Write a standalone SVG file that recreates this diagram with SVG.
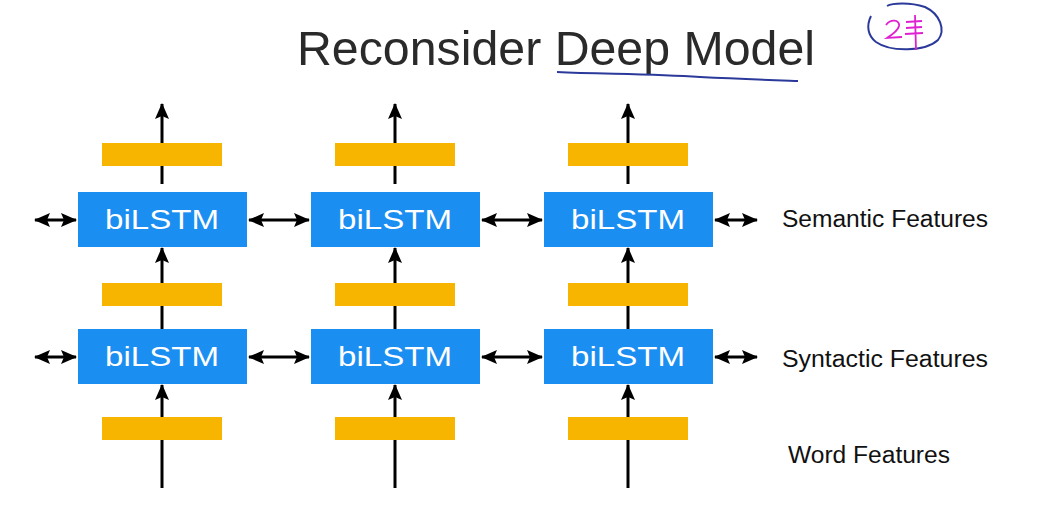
<svg xmlns="http://www.w3.org/2000/svg" width="1037" height="515" viewBox="0 0 1037 515">
<defs>
<marker id="ah" markerUnits="userSpaceOnUse" markerWidth="16" markerHeight="16" refX="15" refY="8" orient="auto-start-reverse" viewBox="0 0 16 16">
<path d="M0,1 L16,8 L0,15 L3,8 Z" fill="#000"/>
</marker>
<style>
.conn{stroke:#000;stroke-width:3;fill:none}
.arr{marker-end:url(#ah)}
.bi{marker-start:url(#ah);marker-end:url(#ah)}
.lstm{fill:#1b8ef2}
.emb{fill:#f7b500}
.lt{font-family:"Liberation Sans",Arial,sans-serif;font-size:28px;fill:#fff;text-anchor:middle}
.lab{font-family:"Liberation Sans",Arial,sans-serif;font-size:23px;fill:#111}
</style>
</defs>
<rect width="1037" height="515" fill="#fff"/>
<text x="297" y="65" font-family="'Liberation Sans',Arial,sans-serif" font-size="48" fill="#2a2a2a" textLength="518" lengthAdjust="spacingAndGlyphs">Reconsider Deep Model</text>
<g id="annotation" fill="none">
<path d="M557,72 C600,74 650,74 700,77 C740,79 770,80 798,81" stroke="#2b3a9a" stroke-width="2"/>
<path d="M871,16 C866,26 868,36 876,42 C890,52 925,52 938,40 C946,30 940,14 925,7 C910,2 892,3 887,6" stroke="#2b3a9a" stroke-width="2"/>
<path d="M886,25 C890,19 900,19 899,26 C898,31 890,36 887,38 L902,37" stroke="#e020d0" stroke-width="1.8"/>
<path d="M906,22 L922,21 M906,28 L922,27 M905,34 L923,33 M915,15 L916,50" stroke="#e020d0" stroke-width="1.8"/>
</g>
<g id="connectors">
<line class="conn arr" x1="162" y1="184" x2="162" y2="104"/>
<line class="conn arr" x1="162" y1="329" x2="162" y2="248"/>
<line class="conn arr" x1="162" y1="488" x2="162" y2="385"/>
<line class="conn arr" x1="395" y1="184" x2="395" y2="104"/>
<line class="conn arr" x1="395" y1="329" x2="395" y2="248"/>
<line class="conn arr" x1="395" y1="488" x2="395" y2="385"/>
<line class="conn arr" x1="628" y1="184" x2="628" y2="104"/>
<line class="conn arr" x1="628" y1="329" x2="628" y2="248"/>
<line class="conn arr" x1="628" y1="488" x2="628" y2="385"/>
<line class="conn bi" x1="35" y1="220" x2="76" y2="220"/>
<line class="conn bi" x1="249" y1="220" x2="309" y2="220"/>
<line class="conn bi" x1="482" y1="220" x2="542" y2="220"/>
<line class="conn bi" x1="715" y1="220" x2="757" y2="220"/>
<line class="conn bi" x1="35" y1="357" x2="76" y2="357"/>
<line class="conn bi" x1="249" y1="357" x2="309" y2="357"/>
<line class="conn bi" x1="482" y1="357" x2="542" y2="357"/>
<line class="conn bi" x1="715" y1="357" x2="757" y2="357"/>
</g>
<g id="emb-top-1"><rect class="emb" x="102" y="143" width="120" height="23"/></g>
<g id="emb-top-2"><rect class="emb" x="335" y="143" width="120" height="23"/></g>
<g id="emb-top-3"><rect class="emb" x="568" y="143" width="120" height="23"/></g>
<g id="emb-mid-1"><rect class="emb" x="102" y="283" width="120" height="23"/></g>
<g id="emb-mid-2"><rect class="emb" x="335" y="283" width="120" height="23"/></g>
<g id="emb-mid-3"><rect class="emb" x="568" y="283" width="120" height="23"/></g>
<g id="emb-bot-1"><rect class="emb" x="102" y="417" width="120" height="23"/></g>
<g id="emb-bot-2"><rect class="emb" x="335" y="417" width="120" height="23"/></g>
<g id="emb-bot-3"><rect class="emb" x="568" y="417" width="120" height="23"/></g>
<g id="lstm-sem-1"><rect class="lstm" x="78" y="192" width="169" height="55"/><text class="lt" x="162" y="229" textLength="114" lengthAdjust="spacingAndGlyphs">biLSTM</text></g>
<g id="lstm-sem-2"><rect class="lstm" x="311" y="192" width="169" height="55"/><text class="lt" x="395" y="229" textLength="114" lengthAdjust="spacingAndGlyphs">biLSTM</text></g>
<g id="lstm-sem-3"><rect class="lstm" x="544" y="192" width="169" height="55"/><text class="lt" x="628" y="229" textLength="114" lengthAdjust="spacingAndGlyphs">biLSTM</text></g>
<g id="lstm-syn-1"><rect class="lstm" x="78" y="329" width="169" height="55"/><text class="lt" x="162" y="366" textLength="114" lengthAdjust="spacingAndGlyphs">biLSTM</text></g>
<g id="lstm-syn-2"><rect class="lstm" x="311" y="329" width="169" height="55"/><text class="lt" x="395" y="366" textLength="114" lengthAdjust="spacingAndGlyphs">biLSTM</text></g>
<g id="lstm-syn-3"><rect class="lstm" x="544" y="329" width="169" height="55"/><text class="lt" x="628" y="366" textLength="114" lengthAdjust="spacingAndGlyphs">biLSTM</text></g>
<g id="label-semantic"><text class="lab" x="782" y="227" textLength="206" lengthAdjust="spacingAndGlyphs">Semantic Features</text></g>
<g id="label-syntactic"><text class="lab" x="782" y="367" textLength="206" lengthAdjust="spacingAndGlyphs">Syntactic Features</text></g>
<g id="label-word"><text class="lab" x="788" y="463" textLength="162" lengthAdjust="spacingAndGlyphs">Word Features</text></g>
</svg>
